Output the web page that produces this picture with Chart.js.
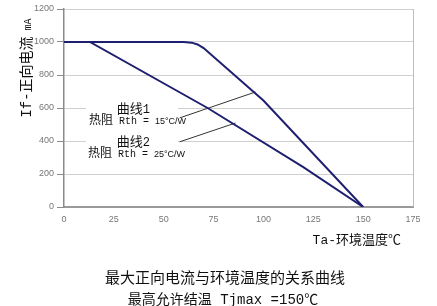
<!DOCTYPE html>
<html>
<head>
<meta charset="utf-8">
<script src="https://cdn.jsdelivr.net/npm/chart.js@4"></script>
<style>
  body { margin: 0; background: #fff; }
</style>
</head>
<body>
<canvas id="myChart" width="437" height="306"></canvas>
<script>
// values
const xTicks = [0, 25, 50, 75, 100, 125, 150, 175];
const yTicks = [0, 200, 400, 600, 800, 1000, 1200];

// 曲线1, Rth = 15°C/W
const curve1X = [0, 60, 64, 67, 70, 100, 150];
const curve1Y = [1000, 1000, 996, 985, 963, 645, 0];
// 曲线2, Rth = 25°C/W
const curve2X = [0, 13, 72, 120, 150];
const curve2Y = [1000, 1000, 600, 242, 0];

// leader lines from the labels to the curves
const leader1X = [58, 96];
const leader1Y = [540, 697];
const leader2X = [58, 86];
const leader2Y = [395, 509];

const yTitle = "If-正向电流";
const yUnit = "mA";
const xTitle = "Ta-环境温度℃";
const caption1 = "最大正向电流与环境温度的关系曲线";
const caption2 = "最高允许结温 Tjmax =150℃";

const fMono = '"Liberation Mono", "Noto Sans CJK SC", monospace';
const fCjk = '"Noto Sans CJK SC", sans-serif';
const fSans = '"Liberation Sans", Arial, sans-serif';

function pts(xs, ys) {
  return xs.map((x, i) => ({ x: x, y: ys[i] }));
}

// draw a row of text pieces with different fonts, left aligned
function runs(ctx, x, y, parts) {
  for (const p of parts) {
    ctx.font = p[1];
    ctx.fillText(p[0], x, y);
    x += ctx.measureText(p[0]).width;
  }
}
function runsWidth(ctx, parts) {
  let w = 0;
  for (const p of parts) {
    ctx.font = p[1];
    w += ctx.measureText(p[0]).width;
  }
  return w;
}

const textPlugin = {
  id: "texts",
  beforeDatasetsDraw(chart) {
    const ctx = chart.ctx;
    const a = chart.chartArea;
    const xs = chart.scales.x;
    const ys = chart.scales.y;
    ctx.save();
    // right border of plot
    ctx.strokeStyle = "#bdbdbd";
    ctx.lineWidth = 1;
    ctx.beginPath();
    ctx.moveTo(a.right + 0.5, a.top);
    ctx.lineTo(a.right + 0.5, a.bottom);
    ctx.stroke();

    // label boxes (white, they hide the grid)
    const left = xs.getPixelForValue(12);
    ctx.fillStyle = "#fff";
    ctx.fillRect(left - 2, ys.getPixelForValue(600) - 7, 92, 26);
    ctx.fillRect(left - 2, ys.getPixelForValue(400) - 7, 92, 26);

    ctx.fillStyle = "#111";
    ctx.textBaseline = "alphabetic";
    ctx.textAlign = "left";
    const mid = xs.getPixelForValue(26.5);
    const l1 = ys.getPixelForValue(600) + 5;
    const l2 = ys.getPixelForValue(400) + 5;
    runs(ctx, mid, l1, [["曲线", "13px " + fCjk], ["1", "12px " + fMono]]);
    runs(ctx, left + 1, l1 + 11, [["热阻", "12px " + fCjk], [" Rth = ", "10px " + fMono], ["15°C/W", "9px " + fSans]]);
    runs(ctx, mid, l2, [["曲线", "13px " + fCjk], ["2", "12px " + fMono]]);
    runs(ctx, left, l2 + 11, [["热阻", "12px " + fCjk], [" Rth = ", "10px " + fMono], ["25°C/W", "9px " + fSans]]);
    ctx.restore();
  },
  afterDraw(chart) {
    const ctx = chart.ctx;
    ctx.save();
    ctx.fillStyle = "#111";
    ctx.textBaseline = "alphabetic";

    // y axis title, rotated
    const yParts = [[yTitle, "14px " + fMono], [" " + yUnit, "10px " + fMono]];
    const yw = runsWidth(ctx, yParts);
    ctx.save();
    ctx.translate(31, 68);
    ctx.rotate(-Math.PI / 2);
    runs(ctx, -yw / 2, 0, yParts);
    ctx.restore();

    // x axis title
    const xParts = [[xTitle, "13px " + fMono]];
    const xw = runsWidth(ctx, xParts);
    runs(ctx, 401 - xw, 244, xParts);

    // captions
    ctx.textAlign = "center";
    ctx.font = "15px " + fMono;
    ctx.fillText(caption1, 225, 283);
    ctx.font = "14px " + fMono;
    ctx.fillText(caption2, 223, 304);
    ctx.restore();
  }
};

const ctx = document.getElementById("myChart");
const myChart = new Chart(ctx, {
  type: "line",
  data: {
    datasets: [
      {
        label: "曲线1",
        data: pts(curve1X, curve1Y),
        borderColor: "#1f1f70",
        borderWidth: 2,
        pointRadius: 0,
        tension: 0,
      },
      {
        label: "曲线2",
        data: pts(curve2X, curve2Y),
        borderColor: "#1f1f70",
        borderWidth: 2,
        pointRadius: 0,
        tension: 0,
      },
      {
        label: "leader1",
        data: pts(leader1X, leader1Y),
        borderColor: "#333",
        borderWidth: 1,
        pointRadius: 0,
      },
      {
        label: "leader2",
        data: pts(leader2X, leader2Y),
        borderColor: "#333",
        borderWidth: 1,
        pointRadius: 0,
      },
    ],
  },
  options: {
    responsive: false,
    animation: false,
    layout: {
      padding: { left: 0, right: 24, top: 9, bottom: 79 },
    },
    plugins: {
      legend: { display: false },
      tooltip: { enabled: false },
    },
    scales: {
      x: {
        type: "linear",
        min: 0,
        max: 175,
        afterBuildTicks: (s) => {
          s.ticks = xTicks.map((v) => ({ value: v }));
        },
        afterFit: (s) => {
          s.height = 20;
        },
        grid: { drawOnChartArea: false, drawTicks: false },
        border: { color: "#9a9a9a", width: 2 },
        ticks: {
          padding: 7,
          color: "#777",
          font: { size: 9, family: fSans },
          callback: (v) => String(v),
        },
      },
      y: {
        min: 0,
        max: 1200,
        afterBuildTicks: (s) => {
          s.ticks = yTicks.map((v) => ({ value: v }));
        },
        afterFit: (s) => {
          s.width = 64;
        },
        grid: { color: "#d0d0d0", tickColor: "#8a8a8a", tickLength: 7 },
        border: { color: "#8a8a8a", width: 1.5 },
        ticks: {
          padding: 3,
          color: "#777",
          font: { size: 9, family: fSans },
          callback: (v) => String(v),
        },
      },
    },
  },
  plugins: [textPlugin],
});
</script>
</body>
</html>
